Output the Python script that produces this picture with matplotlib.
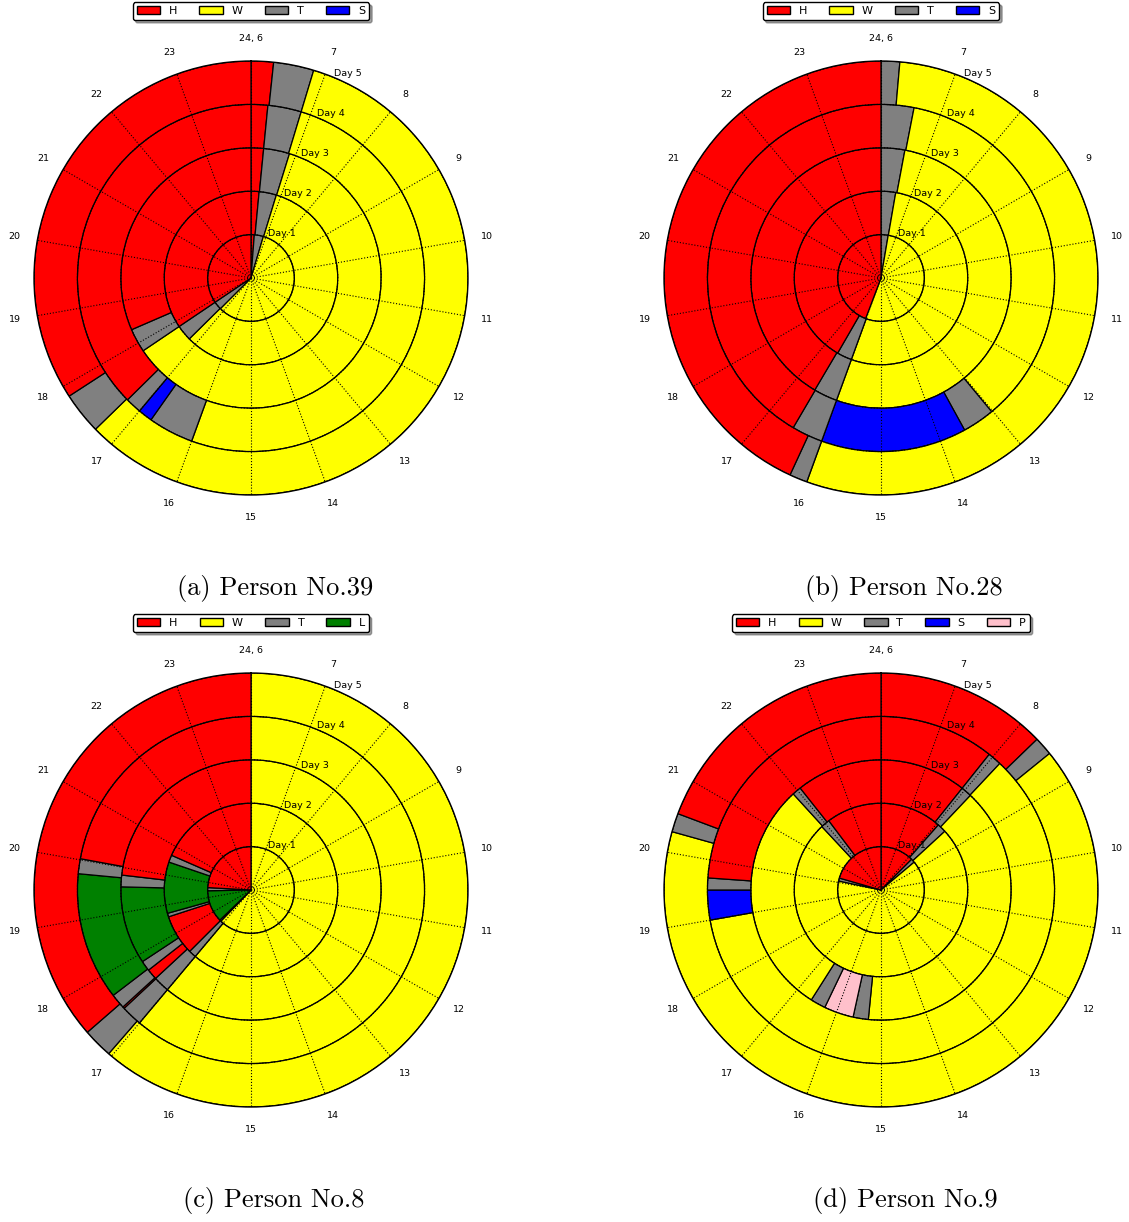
import numpy as np
import matplotlib.pyplot as plt
from matplotlib.patches import Patch

# activity colours
colors = {"H": "red", "W": "yellow", "T": "grey", "S": "blue",
          "L": "green", "P": "pink"}

hour_ticks = list(range(6, 24))
hour_labels = ["24, 6"] + [str(h) for h in range(7, 24)]
day_labels = ["Day 1", "Day 2", "Day 3", "Day 4", "Day 5"]

# each day: (activity, end hour); the day starts at 6
person39 = [
    [("H", 6.22), ("T", 6.83), ("W", 17.25), ("T", 17.8), ("H", 24)],
    [("H", 6.27), ("T", 6.85), ("W", 17.27), ("T", 17.8), ("H", 24)],
    [("H", 6.28), ("T", 6.86), ("W", 17.8), ("T", 18.33), ("H", 24)],
    [("H", 6.28), ("T", 6.84), ("W", 16.0), ("T", 16.76), ("S", 17.0),
     ("T", 17.27), ("H", 24)],
    [("H", 6.3), ("T", 6.84), ("W", 17.29), ("T", 17.85), ("H", 24)],
]
person28 = [
    [("T", 6.48), ("W", 16.04), ("H", 24)],
    [("T", 6.49), ("W", 16.0), ("T", 16.5), ("H", 24)],
    [("T", 6.53), ("W", 16.0), ("T", 16.53), ("H", 24)],
    [("T", 6.55), ("W", 13.02), ("T", 13.56), ("S", 16.0), ("T", 16.52),
     ("H", 24)],
    [("T", 6.25), ("W", 16.0), ("T", 16.24), ("H", 24)],
]
person8 = [
    [("W", 17.2), ("T", 17.3), ("L", 19.45), ("T", 19.66), ("H", 24)],
    [("W", 17.0), ("T", 17.25), ("H", 18.6), ("T", 18.72), ("L", 20.44),
     ("T", 20.68), ("H", 24)],
    [("W", 17.0), ("T", 17.36), ("H", 17.6), ("T", 17.83), ("L", 19.57),
     ("T", 19.83), ("H", 24)],
    [("W", 17.0), ("T", 17.35), ("H", 17.38), ("T", 17.63), ("L", 19.77),
     ("T", 20.02), ("H", 24)],
    [("W", 17.05), ("T", 17.45), ("H", 24)],
]
person9 = [
    [("H", 8.25), ("T", 8.5), ("W", 20.1), ("T", 20.3), ("H", 24)],
    [("H", 8.07), ("T", 8.37), ("W", 21.85), ("T", 22.15), ("H", 24)],
    [("H", 7.93), ("T", 8.17), ("W", 15.28), ("T", 15.62), ("P", 16.28),
     ("T", 16.62), ("W", 21.88), ("T", 22.08), ("H", 24)],
    [("H", 7.93), ("T", 8.16), ("W", 19.0), ("S", 19.5), ("T", 19.7),
     ("H", 24)],
    [("H", 8.3), ("T", 8.55), ("W", 20.28), ("T", 20.53), ("H", 24)],
]

panels = [
    (person39, ["H", "W", "T", "S"], "(a) Person No.39"),
    (person28, ["H", "W", "T", "S"], "(b) Person No.28"),
    (person8, ["H", "W", "T", "L"], "(c) Person No.8"),
    (person9, ["H", "W", "T", "S", "P"], "(d) Person No.9"),
]


def to_theta(h):
    # 6:00 -> 0, 24:00 -> full turn
    return (np.asarray(h) - 6.0) / 18.0 * 2 * np.pi


W, H = 1129, 1222
fig = plt.figure(figsize=(W / 100, H / 100), dpi=100)

centers = [(251, 278), (881, 278), (251, 890), (881, 890)]
caption_pos = [(275, 589), (904, 589), (274, 1201), (905, 1201)]
R = 217

for (days, legend_keys, caption), (cx, cy), (tx, ty) in zip(panels, centers, caption_pos):
    ax = fig.add_axes([(cx - R) / W, (H - cy - R) / H, 2 * R / W, 2 * R / H],
                      projection="polar")
    ax.set_theta_zero_location("N")
    ax.set_theta_direction(-1)

    # one ring per day, one bar per activity
    for k, day in enumerate(days):
        start = 6.0
        for act, end in day:
            ax.bar(to_theta(start), 1, width=to_theta(end) - to_theta(start),
                   bottom=k, align="edge", color=colors[act],
                   edgecolor="black", linewidth=0.9, zorder=1)
            start = end

    ax.set_ylim(0, 5)
    ax.set_yticks([1, 2, 3, 4, 5])
    ax.set_yticklabels([])
    ax.set_xticks(to_theta(hour_ticks))
    ax.set_xticklabels(hour_labels, fontsize=6.8)
    ax.tick_params(axis="x", pad=9.5, size=0)
    ax.set_axisbelow(False)
    ax.grid(True, linestyle=":", color="black", linewidth=0.8)
    ax.spines["polar"].set_linewidth(1.0)

    for k, lab in enumerate(day_labels):
        ax.text(np.deg2rad(22.5), k + 1, lab, ha="left", va="bottom",
                fontsize=6.8)

    handles = [Patch(facecolor=colors[c], edgecolor="black") for c in legend_keys]
    leg = ax.legend(handles, legend_keys, loc="upper center",
                    bbox_to_anchor=(0.5, 1.148), ncol=len(legend_keys),
                    fontsize=8, fancybox=True, shadow=True, framealpha=1,
                    edgecolor="black", handlelength=2.1, borderpad=0.35)
    leg.get_frame().set_linewidth(1.0)

    fig.text(tx / W, 1 - ty / H, caption, ha="center", va="center",
             fontsize=19, family="cmr10")

fig.savefig("out.png", dpi=100)
